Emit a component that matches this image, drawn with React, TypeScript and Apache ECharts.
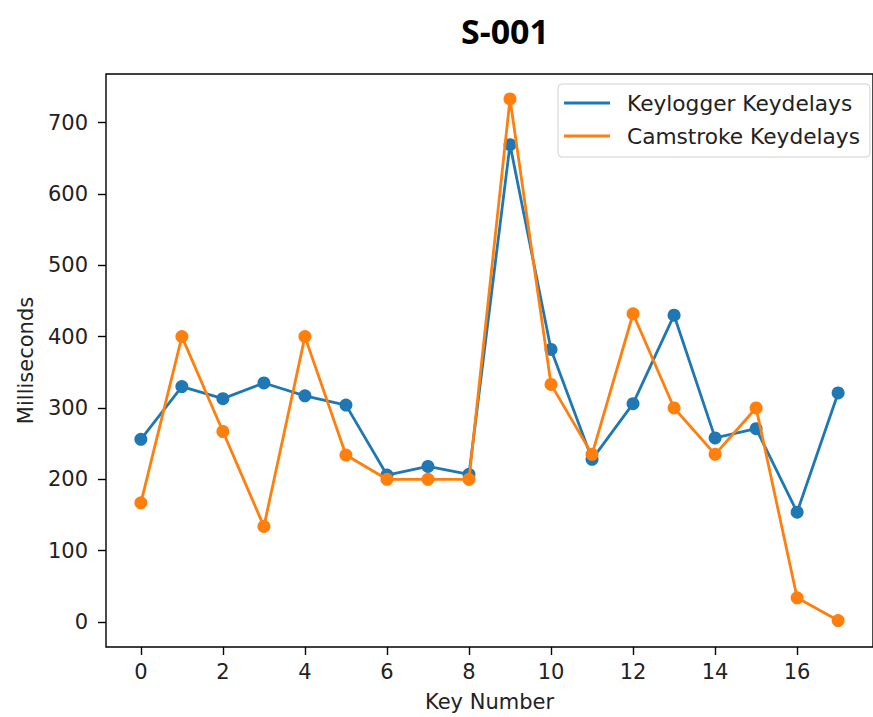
import React, { useEffect, useRef } from "react";
import * as echarts from "echarts";

const keyNumbers = [0, 1, 2, 3, 4, 5, 6, 7, 8, 9, 10, 11, 12, 13, 14, 15, 16, 17];
const keyloggerDelays = [256, 330, 313, 335, 317, 304, 206, 218, 207, 669, 382, 228, 306, 430, 258, 271, 154, 321];
const camstrokeDelays = [167, 400, 267, 134, 400, 234, 200, 200, 200, 733, 333, 235, 432, 300, 235, 300, 34, 2];
const xTicks = [0, 2, 4, 6, 8, 10, 12, 14, 16];
const yTicks = [0, 100, 200, 300, 400, 500, 600, 700];

const BLUE = "#1f77b4";
const ORANGE = "#ff7f0e";
const FONT = "DejaVu Sans";
const FS = 21;

export default function App() {
  const ref = useRef<HTMLDivElement>(null);
  useEffect(() => {
    if (!ref.current) return;
    const chart = echarts.init(ref.current, null, { renderer: "svg" });
    const mk = (vals: number[]) => keyNumbers.map((k, i) => [k, vals[i]]);
    chart.setOption({
      animation: false,
      backgroundColor: "#fff",
      graphic: [
        {
          type: "text",
          x: 505,
          y: 31,
          style: {
            text: "S-001",
            font: "bold 34px 'Open Sans'",
            fill: "#000",
            textAlign: "center",
            textVerticalAlign: "middle",
          },
        },
      ],
      grid: {
        left: 106,
        top: 74,
        width: 775,
        height: 577,
        show: true,
        borderColor: "#000",
        borderWidth: 1.4,
        containLabel: false,
      },
      legend: {
        orient: "vertical",
        left: 558,
        top: 84,
        padding: [7, 10, 9, 6],
        backgroundColor: "#fff",
        borderColor: "#d0d0d0",
        borderWidth: 1,
        borderRadius: 4,
        itemGap: 9,
        itemWidth: 46,
        itemHeight: 3,
        icon: "rect",
        textStyle: { fontFamily: FONT, fontSize: 21.7, color: "#222", lineHeight: 24, padding: [0, 0, 0, 12] },
        data: ["Keylogger Keydelays", "Camstroke Keydelays"],
      },
      xAxis: {
        type: "value",
        min: -0.85,
        max: 17.85,
        name: "Key Number",
        nameLocation: "middle",
        nameGap: 44,
        nameTextStyle: { fontFamily: FONT, fontSize: FS, color: "#222" },
        splitLine: { show: false },
        axisLine: { show: false, onZero: false },
        axisTick: { show: true, length: 8, lineStyle: { color: "#000", width: 1.4 }, customValues: xTicks },
        axisLabel: { fontFamily: FONT, fontSize: FS, color: "#222", margin: 14, customValues: xTicks },
      },
      yAxis: {
        type: "value",
        min: -35,
        max: 768,
        name: "Milliseconds",
        nameLocation: "middle",
        nameGap: 70,
        nameTextStyle: { fontFamily: FONT, fontSize: FS, color: "#222" },
        splitLine: { show: false },
        axisLine: { show: false, onZero: false },
        axisTick: { show: true, length: 8, lineStyle: { color: "#000", width: 1.4 }, customValues: yTicks },
        axisLabel: { fontFamily: FONT, fontSize: FS, color: "#222", margin: 18, customValues: yTicks },
      },
      series: [
        {
          name: "Keylogger Keydelays",
          type: "line",
          data: mk(keyloggerDelays),
          color: BLUE,
          symbol: "circle",
          symbolSize: 13,
          showSymbol: true,
          lineStyle: { width: 2.8, color: BLUE },
          itemStyle: { color: BLUE },
          z: 2,
        },
        {
          name: "Camstroke Keydelays",
          type: "line",
          data: mk(camstrokeDelays),
          color: ORANGE,
          symbol: "circle",
          symbolSize: 13,
          showSymbol: true,
          lineStyle: { width: 2.8, color: ORANGE },
          itemStyle: { color: ORANGE },
          z: 3,
        },
      ],
    });
    return () => chart.dispose();
  }, []);
  return (
    <div
      ref={ref}
      style={{ position: "absolute", left: 0, top: 0, width: 873, height: 717 }}
    />
  );
}
